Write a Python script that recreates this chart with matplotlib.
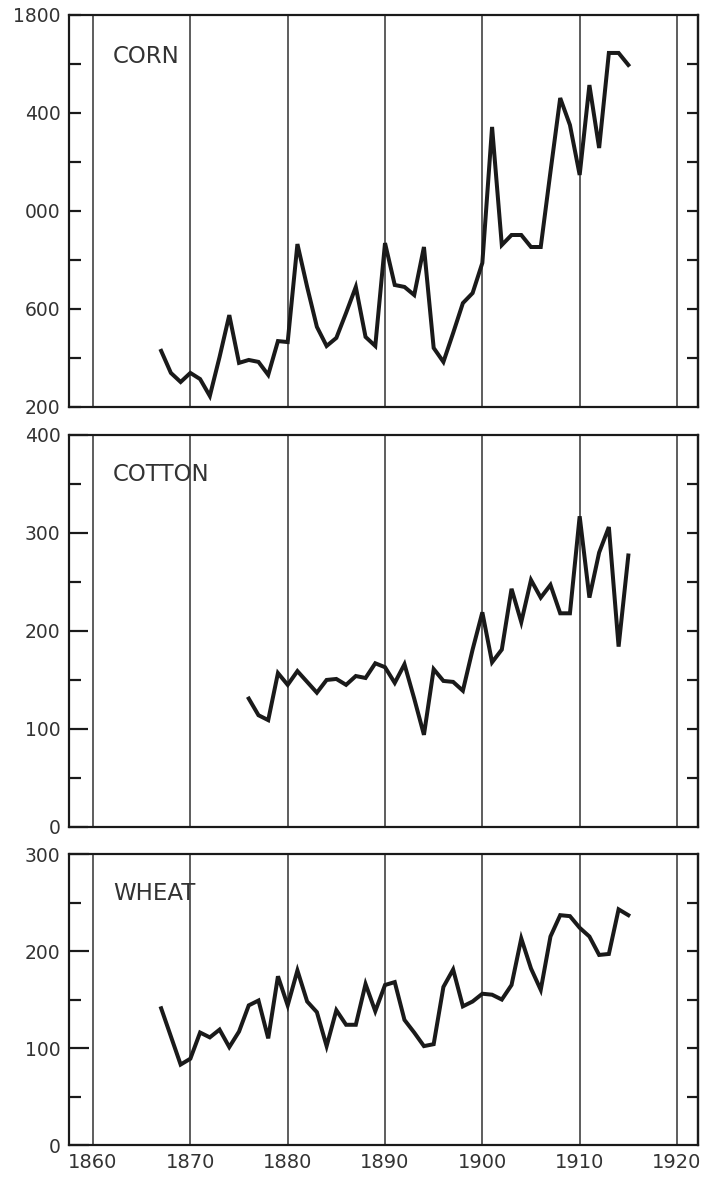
import matplotlib
matplotlib.use("Agg")
import matplotlib.pyplot as plt

plt.rcParams['font.family'] = ['DejaVu Sans']

# corn, 1867-1915
corn_years = list(range(1867, 1916))
corn = [429, 339, 302, 339, 314, 245, 404, 575, 380, 392,
        384, 331, 469, 465, 865, 690, 527, 449, 482, 584,
        690, 486, 449, 869, 698, 690, 657, 853, 441, 384,
        502, 624, 665, 788, 1343, 861, 902, 902, 853, 853,
        1160, 1461, 1351, 1147, 1514, 1257, 1645, 1645, 1596]

# cotton, 1876-1915
cotton_years = list(range(1876, 1916))
cotton = [131, 114, 109, 157, 145, 159, 148, 137, 150, 151,
          145, 154, 152, 167, 163, 147, 166, 131, 94, 161,
          149, 148, 139, 181, 219, 168, 181, 243, 209, 252,
          234, 247, 218, 218, 317, 234, 280, 306, 184, 277]

# wheat, 1867-1915
wheat_years = list(range(1867, 1916))
wheat = [141, 112, 83, 89, 116, 111, 119, 101, 117, 144,
         149, 110, 174, 144, 180, 148, 137, 102, 139, 124,
         124, 166, 138, 165, 168, 129, 116, 102, 104, 163,
         181, 143, 148, 156, 155, 150, 165, 213, 182, 160,
         215, 237, 236, 224, 215, 196, 197, 243, 237]

decades = [1860, 1870, 1880, 1890, 1900, 1910, 1920]
decade_labels = ['1860', '1870', '1880', '1890', '1900', '1910', '1920']

corn_ticks = [200, 600, 1000, 1400, 1800]
corn_labels = ['200', '600', '000', '400', '1800']   # as printed (leading 1 cut off)
corn_minor = [400, 800, 1200, 1600]
cotton_ticks = [0, 100, 200, 300, 400]
cotton_minor = [50, 150, 250, 350]
wheat_ticks = [0, 100, 200, 300]
wheat_minor = [50, 150, 250]

ink = '#1a1a1a'
px = 72 / 100.0   # points per pixel

fig = plt.figure(figsize=(7.04, 11.79), dpi=100)

panels = [
    ('CORN', corn_years, corn, (200, 1800), corn_ticks, corn_labels, corn_minor,
     [0.098, 0.6548, 0.8935, 0.3325], 12, 0.895),
    ('COTTON', cotton_years, cotton, (0, 400), cotton_ticks,
     [str(v) for v in cotton_ticks], cotton_minor,
     [0.098, 0.2986, 0.8935, 0.3325], 19, 0.90),
    ('WHEAT', wheat_years, wheat, (0, 300), wheat_ticks,
     [str(v) for v in wheat_ticks], wheat_minor,
     [0.098, 0.0288, 0.8935, 0.2468], 20, 0.866),
]

for i, (name, yrs, vals, ylim, ticks, labels, minor, pos, major_len, ty) in enumerate(panels):
    ax = fig.add_axes(pos)
    ax.plot(yrs, vals, color=ink, lw=4 * px, solid_joinstyle='miter', zorder=3)
    ax.set_xlim(1857.53, 1922.16)
    ax.set_ylim(*ylim)

    # vertical decade lines
    ax.set_xticks(decades)
    ax.grid(axis='x', color='#3a3a3a', lw=1.6 * px)
    ax.tick_params(axis='x', length=0, pad=6, labelsize=14, colors='#333333')
    if i < 2:
        ax.set_xticklabels([])
    else:
        ax.set_xticklabels(decade_labels)

    ax.set_yticks(ticks)
    ax.set_yticklabels(labels)
    ax.set_yticks(minor, minor=True)
    ax.tick_params(axis='y', which='major', direction='in', length=major_len * px,
                   width=2.2 * px, pad=6, labelsize=13.5, colors=ink, labelcolor='#333333')
    ax.tick_params(axis='y', which='minor', direction='in', length=12 * px,
                   width=2.2 * px, colors=ink)

    # short inward ticks along the right border
    sec = ax.secondary_yaxis('right')
    sec.set_yticks(sorted(ticks[1:-1] + minor))
    sec.tick_params(direction='in', length=11 * px, width=2.2 * px, colors=ink, labelright=False)
    sec.spines['right'].set_linewidth(2.2 * px)

    for s in ax.spines.values():
        s.set_linewidth(2.2 * px)
        s.set_color(ink)

    ax.text(0.07, ty, name, transform=ax.transAxes, fontsize=16.5,
            color='#333333', va='center', ha='left')

fig.savefig('out.png', dpi=100)
